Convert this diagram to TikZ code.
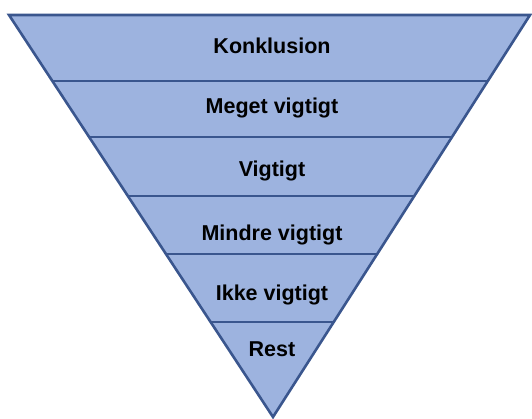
\documentclass[tikz,border=0pt]{standalone}
\usepackage{fontspec}
\setmainfont{Liberation Sans}
\usepackage{xcolor}
\usetikzlibrary{calc}

\definecolor{bandfill}{RGB}{157,179,223}
\definecolor{bandline}{RGB}{58,86,142}

\begin{document}
\begin{tikzpicture}[x=1pt, y=-1pt, line width=2.6pt,
  label/.style={anchor=base, font=\fontsize{21.5}{25}\selectfont\bfseries, text=black}]

\useasboundingbox (0,0) rectangle (532,419);

\coordinate (tl) at (9,15);
\coordinate (tr) at (530,15);
\coordinate (apex) at (273,417);

\filldraw[fill=bandfill, draw=bandline, line join=miter] (tl) -- (tr) -- (apex) -- cycle;

\foreach \t/\n in {0.164/1, 0.303/2, 0.450/3, 0.595/4, 0.764/5}{
  \draw[bandline] ($(tl)!\t!(apex)$) coordinate (l\n) -- ($(tr)!\t!(apex)$) coordinate (r\n);
}

\node[label] (konklusion) at (272,54) {Konklusion};
\node[label] (meget) at (272,114) {Meget vigtigt};
\node[label] (vigtigt) at (272,177) {Vigtigt};
\node[label] (mindre) at (272,241) {Mindre vigtigt};
\node[label] (ikke) at (272,301) {Ikke vigtigt};
\node[label] (rest) at (272,356) {Rest};

\end{tikzpicture}
\end{document}
